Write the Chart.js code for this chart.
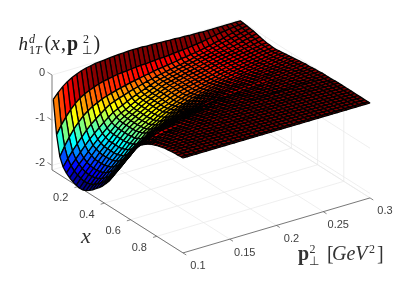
<!DOCTYPE html>
<html>
<head>
<meta charset="utf-8">
<style>
  html, body { margin: 0; padding: 0; background: #fff; }
  canvas { display: block; }
</style>
<script src="https://cdn.jsdelivr.net/npm/chart.js@4"></script>
</head>
<body>
<canvas id="grafico" width="409" height="284"></canvas>
<script>
// eixos
const xTicks = [0.2, 0.4, 0.6, 0.8];
const pTicks = [0.1, 0.15, 0.2, 0.25, 0.3];
const zTicks = [0, -1, -2];
const xLim = [0, 1];
const pLim = [0.1, 0.3];
const zLim = [-2.1, 0];

// malha da superficie
const xs = [0.01,0.035,0.06,0.085,0.11,0.135,0.16,0.185,0.21,0.235,0.26,0.285,0.31,0.335,0.36,0.385,0.41,0.435,0.46,0.485,0.51,0.535,0.56,0.585,0.61,0.635,0.66,0.685,0.71,0.735,0.76,0.785,0.81,0.835,0.86,0.885,0.91,0.935,0.96,0.985,1];
const ps = [0.1,0.105,0.11,0.115,0.12,0.125,0.13,0.135,0.14,0.145,0.15,0.155,0.16,0.165,0.17,0.175,0.18,0.185,0.19,0.195,0.2,0.205,0.21,0.215,0.22,0.225,0.23,0.235,0.24,0.245,0.25,0.255,0.26,0.265,0.27,0.275,0.28,0.285,0.29,0.295,0.3];

// uma linha por x; a linha termina quando z ja chegou a zero
const zRows = [
[-.52,-.40,-.30,-.22,-.16,-.11,-.07,-.04,-.02,0,.01,.02,.03,.04,.05,.05,.06,.06,.06,.06,.05,.05,.05,.04,.04,.03,.03,.02,.02,.01,.01,.01],
[-1.26,-1.08,-.93,-.80,-.69,-.60,-.54,-.49,-.45,-.41,-.38,-.36,-.34,-.32,-.31,-.30,-.29,-.28,-.27,-.27,-.26,-.25,-.24,-.24,-.23,-.22,-.21,-.20,-.19,-.18,-.16,-.15,-.13,-.11,-.09,-.07,-.06,-.04,-.03,-.02,-.01],
[-1.70,-1.50,-1.33,-1.18,-1.06,-.95,-.87,-.80,-.75,-.70,-.66,-.63,-.60,-.57,-.55,-.52,-.50,-.48,-.46,-.44,-.42,-.40,-.39,-.37,-.36,-.34,-.32,-.31,-.29,-.28,-.26,-.24,-.22,-.19,-.17,-.14,-.11,-.08,-.06,-.04,-.02],
[-1.88,-1.73,-1.59,-1.46,-1.34,-1.22,-1.12,-1.03,-.95,-.87,-.80,-.76,-.72,-.69,-.65,-.62,-.59,-.56,-.53,-.51,-.48,-.46,-.44,-.42,-.40,-.38,-.36,-.34,-.31,-.29,-.27,-.25,-.22,-.20,-.17,-.15,-.13,-.10,-.08,-.05,-.03],
[-1.97,-1.84,-1.72,-1.60,-1.48,-1.37,-1.27,-1.18,-1.09,-1.01,-.93,-.88,-.83,-.78,-.73,-.69,-.65,-.61,-.57,-.53,-.50,-.48,-.45,-.43,-.40,-.38,-.36,-.34,-.31,-.29,-.27,-.25,-.23,-.21,-.19,-.17,-.14,-.12,-.09,-.07,-.04],
[-2.03,-1.91,-1.79,-1.68,-1.57,-1.46,-1.36,-1.26,-1.17,-1.08,-.99,-.93,-.88,-.82,-.77,-.71,-.67,-.63,-.58,-.54,-.50,-.48,-.45,-.43,-.40,-.38,-.36,-.34,-.31,-.29,-.27,-.25,-.23,-.22,-.20,-.18,-.16,-.13,-.11,-.08,-.06],
[-2.07,-1.95,-1.84,-1.73,-1.61,-1.50,-1.40,-1.30,-1.21,-1.11,-1.02,-.96,-.90,-.84,-.78,-.72,-.68,-.63,-.59,-.54,-.50,-.48,-.45,-.43,-.40,-.38,-.36,-.34,-.31,-.29,-.27,-.25,-.24,-.22,-.21,-.19,-.17,-.15,-.12,-.10,-.08],
[-2.10,-1.98,-1.87,-1.76,-1.65,-1.53,-1.43,-1.33,-1.22,-1.12,-1.03,-.96,-.90,-.84,-.78,-.72,-.67,-.63,-.58,-.54,-.50,-.47,-.45,-.42,-.40,-.38,-.36,-.34,-.31,-.29,-.27,-.25,-.24,-.22,-.21,-.19,-.17,-.16,-.14,-.12,-.10],
[-2.12,-2.00,-1.88,-1.77,-1.65,-1.54,-1.43,-1.33,-1.22,-1.12,-1.03,-.96,-.90,-.84,-.78,-.72,-.67,-.63,-.58,-.54,-.50,-.47,-.45,-.42,-.40,-.38,-.36,-.34,-.31,-.29,-.27,-.25,-.24,-.22,-.21,-.19,-.18,-.16,-.15,-.13,-.12],
[-2.11,-1.99,-1.88,-1.77,-1.65,-1.54,-1.43,-1.33,-1.22,-1.12,-1.03,-.96,-.90,-.84,-.78,-.72,-.67,-.63,-.58,-.54,-.50,-.47,-.45,-.42,-.40,-.38,-.36,-.34,-.31,-.29,-.27,-.25,-.24,-.22,-.21,-.19,-.18,-.16,-.15,-.13,-.12],
[-2.08,-1.97,-1.86,-1.75,-1.64,-1.53,-1.43,-1.33,-1.22,-1.12,-1.03,-.96,-.90,-.84,-.78,-.72,-.67,-.63,-.58,-.54,-.50,-.47,-.45,-.42,-.40,-.38,-.36,-.34,-.31,-.29,-.27,-.25,-.24,-.22,-.21,-.19,-.18,-.16,-.15,-.14,-.13],
[-2.03,-1.93,-1.83,-1.73,-1.62,-1.52,-1.42,-1.32,-1.21,-1.11,-1.02,-.95,-.89,-.83,-.77,-.71,-.67,-.63,-.58,-.54,-.50,-.47,-.45,-.42,-.40,-.38,-.36,-.34,-.31,-.29,-.27,-.25,-.24,-.22,-.21,-.19,-.18,-.16,-.15,-.14,-.13],
[-1.97,-1.87,-1.78,-1.68,-1.59,-1.49,-1.39,-1.29,-1.19,-1.10,-1.00,-.94,-.88,-.82,-.76,-.70,-.66,-.62,-.57,-.53,-.49,-.47,-.44,-.42,-.39,-.37,-.35,-.33,-.30,-.28,-.26,-.25,-.23,-.22,-.20,-.19,-.18,-.16,-.15,-.13,-.12],
[-1.90,-1.81,-1.72,-1.62,-1.53,-1.44,-1.35,-1.25,-1.16,-1.06,-.97,-.91,-.85,-.79,-.73,-.67,-.63,-.59,-.55,-.51,-.47,-.45,-.42,-.40,-.37,-.35,-.33,-.31,-.29,-.27,-.25,-.24,-.22,-.21,-.19,-.18,-.17,-.15,-.14,-.12,-.11],
[-1.83,-1.74,-1.65,-1.55,-1.46,-1.37,-1.28,-1.19,-1.11,-1.02,-.93,-.87,-.81,-.76,-.70,-.64,-.60,-.56,-.53,-.49,-.45,-.43,-.40,-.38,-.35,-.33,-.31,-.29,-.28,-.26,-.24,-.23,-.21,-.20,-.18,-.17,-.16,-.14,-.13,-.11,-.10],
[-1.75,-1.66,-1.56,-1.47,-1.37,-1.28,-1.20,-1.12,-1.03,-.95,-.87,-.81,-.76,-.70,-.65,-.59,-.55,-.52,-.48,-.45,-.41,-.39,-.37,-.34,-.32,-.30,-.28,-.27,-.25,-.24,-.22,-.21,-.20,-.18,-.17,-.16,-.15,-.13,-.12,-.10,-.09],
[-1.65,-1.56,-1.46,-1.37,-1.27,-1.18,-1.10,-1.03,-.95,-.88,-.80,-.75,-.70,-.64,-.59,-.54,-.51,-.47,-.44,-.40,-.37,-.35,-.33,-.31,-.29,-.27,-.26,-.24,-.23,-.21,-.20,-.19,-.18,-.17,-.16,-.15,-.14,-.12,-.11,-.09,-.08],
[-1.55,-1.45,-1.35,-1.26,-1.16,-1.06,-.99,-.92,-.86,-.79,-.72,-.67,-.62,-.58,-.53,-.48,-.45,-.42,-.39,-.36,-.33,-.31,-.29,-.28,-.26,-.24,-.23,-.22,-.20,-.19,-.18,-.17,-.16,-.15,-.14,-.13,-.12,-.11,-.09,-.08,-.07],
[-1.42,-1.32,-1.23,-1.13,-1.04,-.94,-.88,-.82,-.75,-.69,-.63,-.59,-.55,-.51,-.47,-.43,-.40,-.37,-.35,-.32,-.29,-.27,-.26,-.24,-.23,-.21,-.20,-.19,-.18,-.17,-.16,-.15,-.14,-.14,-.13,-.12,-.11,-.10,-.08,-.07,-.06],
[-1.28,-1.19,-1.09,-1.00,-.90,-.81,-.76,-.70,-.65,-.59,-.54,-.51,-.47,-.44,-.40,-.37,-.35,-.32,-.30,-.27,-.25,-.24,-.22,-.21,-.19,-.18,-.17,-.16,-.16,-.15,-.14,-.13,-.12,-.12,-.11,-.10,-.09,-.08,-.07,-.06,-.05],
[-1.13,-1.04,-.95,-.86,-.77,-.68,-.64,-.59,-.55,-.50,-.46,-.43,-.40,-.38,-.35,-.32,-.30,-.28,-.25,-.23,-.21,-.20,-.19,-.18,-.17,-.16,-.15,-.14,-.14,-.13,-.12,-.11,-.11,-.10,-.10,-.09,-.08,-.07,-.06,-.05,-.04],
[-.98,-.89,-.81,-.72,-.64,-.55,-.52,-.48,-.45,-.41,-.38,-.36,-.34,-.31,-.29,-.27,-.25,-.23,-.22,-.20,-.18,-.17,-.17,-.16,-.16,-.15,-.14,-.14,-.13,-.13,-.12,-.11,-.10,-.10,-.09,-.08,-.07,-.06,-.06,-.05,-.04],
[-.82,-.74,-.67,-.59,-.52,-.44,-.41,-.38,-.36,-.33,-.30,-.28,-.26,-.25,-.23,-.21,-.20,-.18,-.17,-.15,-.14,-.14,-.13,-.13,-.12,-.12,-.12,-.11,-.11,-.10,-.10,-.09,-.09,-.08,-.08,-.07,-.06,-.05,-.05,-.04,-.03],
[-.67,-.61,-.54,-.48,-.41,-.35,-.33,-.31,-.28,-.26,-.24,-.23,-.21,-.20,-.18,-.17,-.16,-.15,-.13,-.12,-.11,-.11,-.11,-.10,-.10,-.10,-.10,-.09,-.09,-.09,-.08,-.08,-.07,-.07,-.06,-.06,-.05,-.04,-.04,-.03,-.02],
[-.55,-.49,-.44,-.38,-.33,-.27,-.25,-.23,-.22,-.20,-.18,-.17,-.16,-.15,-.14,-.13,-.12,-.11,-.11,-.10,-.09,-.09,-.09,-.08,-.08,-.08,-.08,-.08,-.07,-.07,-.07,-.07,-.06,-.06,-.05,-.05,-.04,-.04,-.03,-.03,-.02],
[-.44,-.39,-.35,-.30,-.26,-.21,-.20,-.18,-.17,-.15,-.14,-.13,-.12,-.12,-.11,-.10,-.09,-.09,-.08,-.08,-.07,-.07,-.07,-.06,-.06,-.06,-.06,-.06,-.06,-.06,-.06,-.06,-.05,-.05,-.04,-.04,-.04,-.03,-.03,-.02,-.01],
[-.36,-.32,-.28,-.24,-.20,-.16,-.15,-.14,-.13,-.12,-.11,-.10,-.10,-.09,-.09,-.08,-.08,-.07,-.07,-.06,-.06,-.06,-.06,-.05,-.05,-.05,-.05,-.05,-.05,-.05,-.05,-.05,-.04,-.04,-.03,-.03,-.03,-.02,-.02,-.01,-.01],
[-.29,-.26,-.23,-.21,-.18,-.16,-.15,-.13,-.12,-.10,-.09,-.08,-.08,-.07,-.06,-.06,-.05,-.05,-.05,-.04,-.04,-.04,-.04,-.03,-.03,-.03,-.03,-.03,-.02,-.02,-.02,-.02,-.02,-.02,-.01,-.01,-.01,-.01,-.01,-.01,-.01],
[-.23,-.21,-.19,-.16,-.14,-.12,-.11,-.10,-.09,-.08,-.07,-.06,-.06,-.05,-.05,-.04,-.04,-.04,-.03,-.03,-.03,-.03,-.03,-.02,-.02,-.02,-.02,-.02,-.02,-.02,-.02,-.02,-.01,-.01,-.01,-.01,-.01,-.01,-.01,-.01,-.01],
[-.18,-.16,-.14,-.13,-.11,-.09,-.08,-.07,-.07,-.06,-.05,-.05,-.04,-.04,-.03,-.03,-.03,-.03,-.02,-.02,-.02,-.02,-.02,-.02,-.02,-.02,-.01,-.01,-.01,-.01,-.01,-.01,-.01,-.01,-.01,-.01,-.01,-.01],
[-.14,-.12,-.11,-.10,-.08,-.07,-.06,-.05,-.05,-.04,-.04,-.03,-.03,-.03,-.02,-.02,-.02,-.02,-.02,-.02,-.01,-.01,-.01,-.01,-.01,-.01,-.01,-.01,-.01,-.01,-.01,-.01,-.01],
[-.11,-.09,-.08,-.07,-.06,-.05,-.05,-.04,-.04,-.03,-.03,-.02,-.02,-.02,-.02,-.02,-.01,-.01,-.01,-.01,-.01,-.01,-.01,-.01,-.01,-.01,-.01],
[-.08,-.07,-.06,-.05,-.05,-.04,-.03,-.03,-.03,-.02,-.02,-.02,-.02,-.01,-.01,-.01,-.01,-.01,-.01,-.01,-.01],
[-.06,-.05,-.04,-.04,-.03,-.03,-.02,-.02,-.02,-.02,-.01,-.01,-.01,-.01,-.01,-.01],
[-.04,-.03,-.03,-.03,-.02,-.02,-.02,-.01,-.01,-.01,-.01,-.01],
[-.03,-.02,-.02,-.02,-.01,-.01,-.01,-.01],
[-.02,-.01,-.01,-.01,-.01],
[-.01,-.01,-.01],
[-.01],
[],
[]
];

function zAt(i, j) {
  const v = zRows[i][j];
  return v === undefined ? 0 : v;
}

// vista 3D fixa, plano da tela em px
function projeta(x, p, z) {
  return {
    x: 52 + 131 * x + 935 * (p - 0.1),
    y: 75 + 83 * x - 275 * (p - 0.1) - 45.2 * z
  };
}

// colormap jet
function jet(z) {
  const t = Math.min(1, Math.max(0, (z + 2.13) / 2.13));
  const c = v => Math.round(255 * Math.min(1, Math.max(0, 1.5 - Math.abs(4 * t - v))));
  return `rgb(${c(3)},${c(2)},${c(1)})`;
}

function segmento(a, b, cor, largura) {
  return {
    data: [a, b],
    showLine: true,
    fill: false,
    borderColor: cor,
    borderWidth: largura,
    pointRadius: 0
  };
}

const datasets = [];

// dataset 0 fica por cima: celulas mais proximas primeiro
for (let i = xs.length - 2; i >= 0; i--) {
  for (let j = 0; j < ps.length - 1; j++) {
    const a = projeta(xs[i], ps[j], zAt(i, j));
    datasets.push({
      data: [
        a,
        projeta(xs[i + 1], ps[j], zAt(i + 1, j)),
        projeta(xs[i + 1], ps[j + 1], zAt(i + 1, j + 1)),
        projeta(xs[i], ps[j + 1], zAt(i, j + 1)),
        a
      ],
      showLine: true,
      fill: "shape",
      backgroundColor: jet(zAt(i, j)),
      borderColor: "#000",
      borderWidth: 1.3,
      borderJoinStyle: "bevel",
      pointRadius: 0
    });
  }
}

// linhas dos eixos e marcas
const corEixo = "#555";
const zFloor = zLim[0], zTop = zLim[1];
const pMin = pLim[0], pMax = pLim[1];
const xMin = xLim[0], xMax = xLim[1];
datasets.push(segmento(projeta(xMin, pMin, zFloor), projeta(xMax, pMin, zFloor), corEixo, 0.8));
datasets.push(segmento(projeta(xMax, pMin, zFloor), projeta(xMax, pMax, zFloor), corEixo, 0.8));
datasets.push(segmento(projeta(xMin, pMin, zFloor), projeta(xMin, pMin, zTop), "#aaa", 1.5));
xTicks.forEach(x => datasets.push(segmento(projeta(x, pMin, zFloor), projeta(x, pMin - 0.004, zFloor), corEixo, 0.7)));
pTicks.forEach(p => datasets.push(segmento(projeta(xMax, p, zFloor), projeta(xMax + 0.025, p, zFloor), corEixo, 0.7)));
zTicks.forEach(z => datasets.push(segmento(projeta(xMin, pMin, z), projeta(xMin - 0.035, pMin, z), corEixo, 0.7)));

// grade
const corGrade = "#e8e8e8";
xTicks.forEach(x => {
  datasets.push(segmento(projeta(x, pMin, zFloor), projeta(x, pMax, zFloor), corGrade, 0.7));
  datasets.push(segmento(projeta(x, pMax, zFloor), projeta(x, pMax, zTop), corGrade, 0.7));
});
pTicks.forEach(p => {
  datasets.push(segmento(projeta(xMin, p, zFloor), projeta(xMax, p, zFloor), corGrade, 0.7));
  datasets.push(segmento(projeta(xMin, p, zFloor), projeta(xMin, p, zTop), corGrade, 0.7));
});
zTicks.forEach(z => {
  datasets.push(segmento(projeta(xMin, pMin, z), projeta(xMin, pMax, z), corGrade, 0.7));
  datasets.push(segmento(projeta(xMin, pMax, z), projeta(xMax, pMax, z), corGrade, 0.7));
});
datasets.push(segmento(projeta(xMin, pMin, zFloor), projeta(xMin, pMax, zFloor), corGrade, 0.7));
datasets.push(segmento(projeta(xMin, pMax, zFloor), projeta(xMax, pMax, zFloor), corGrade, 0.7));
datasets.push(segmento(projeta(xMin, pMax, zFloor), projeta(xMin, pMax, zTop), corGrade, 0.7));

// textos
const serif = '"Liberation Serif"';
const textos = {
  id: "textos",
  afterDraw(chart) {
    const { ctx, scales } = chart;
    const put = (s, x, y, font, cor, align) => {
      ctx.font = font;
      ctx.fillStyle = cor;
      ctx.textAlign = align || "left";
      ctx.textBaseline = "alphabetic";
      ctx.fillText(s, x, y);
    };
    const tela = (x, p, z) => {
      const q = projeta(x, p, z);
      return { x: scales.x.getPixelForValue(q.x), y: scales.y.getPixelForValue(q.y) };
    };
    ctx.save();
    const fonte = '11px "Liberation Sans"';
    const cinza = "#404040";
    xTicks.forEach(x => {
      const q = tela(x, pMin, zFloor);
      put(String(x), q.x - 17.5, q.y + 14.5, fonte, cinza, "center");
    });
    pTicks.forEach(p => {
      const q = tela(xMax, p, zFloor);
      put(String(p), q.x + 15, q.y + 16.5, fonte, cinza, "center");
    });
    zTicks.forEach(z => {
      const q = tela(xMin, pMin, z);
      put(String(z), 45, q.y + 1, fonte, cinza, "right");
    });

    // h_1T^d(x, p_perp^2)
    const preto = "#222";
    put("h", 18.5, 50, `italic 19px ${serif}`, preto);
    put("d", 29, 43, `italic 12px ${serif}`, preto);
    put("1", 29, 54, `12px ${serif}`, preto);
    put("T", 35, 54, `italic 12px ${serif}`, preto);
    put("(", 44.5, 50, `20px ${serif}`, preto);
    put("x", 51, 50, `italic 20px ${serif}`, preto);
    put(",", 61, 50, `20px ${serif}`, preto);
    put("p", 67, 50, `bold 20px ${serif}`, preto);
    put("2", 83, 43, `12px ${serif}`, preto);
    put("\u22A5", 81.5, 54, `12px ${serif}`, preto);
    put(")", 93.5, 50, `20px ${serif}`, preto);

    // rotulos dos eixos
    const cinzaEsc = "#333";
    put("x", 81, 243, `italic 22px ${serif}`, cinzaEsc);
    put("p", 298, 260, `bold 20px ${serif}`, cinzaEsc);
    put("2", 309.5, 253, `12px ${serif}`, cinzaEsc);
    put("\u22A5", 308.5, 265, `12px ${serif}`, cinzaEsc);
    put("[", 327, 260, `20px ${serif}`, cinzaEsc);
    put("GeV", 332, 260, `italic 20px ${serif}`, cinzaEsc);
    put("2", 369, 253, `12px ${serif}`, cinzaEsc);
    put("]", 377, 260, `20px ${serif}`, cinzaEsc);
    ctx.restore();
  }
};

new Chart(document.getElementById("grafico"), {
  type: "scatter",
  data: { datasets },
  options: {
    responsive: false,
    animation: false,
    events: [],
    parsing: false,
    normalized: true,
    layout: { padding: 0 },
    plugins: { legend: { display: false }, tooltip: { enabled: false } },
    scales: {
      x: { type: "linear", min: 0, max: 409, display: false },
      y: { type: "linear", min: 0, max: 284, reverse: true, display: false }
    }
  },
  plugins: [textos]
});
</script>
</body>
</html>
